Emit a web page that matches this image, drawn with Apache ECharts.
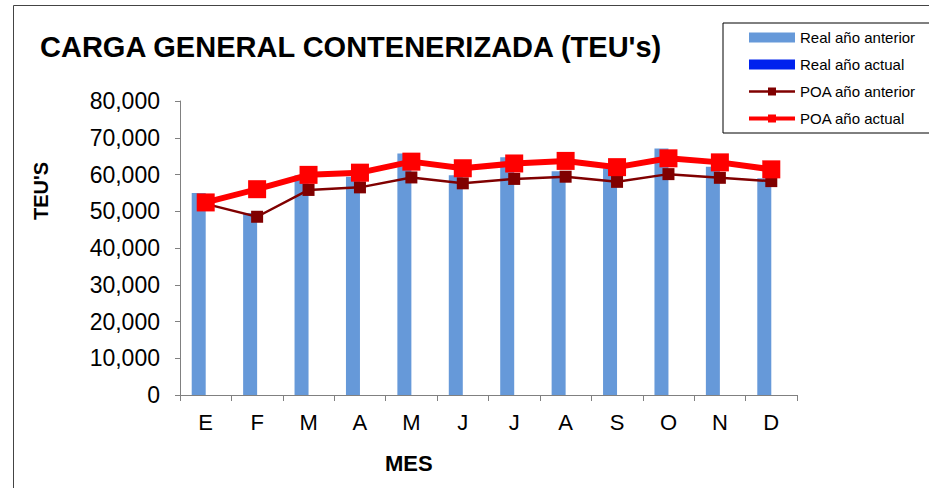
<!DOCTYPE html>
<html>
<head>
<meta charset="UTF-8">
<title>Carga general contenerizada</title>
<script src="https://cdn.jsdelivr.net/npm/echarts@6/dist/echarts.min.js"></script>
<style>
  html, body { margin: 0; padding: 0; background: #fff; }
  #main { width: 929px; height: 488px; }
</style>
</head>
<body>
<div id="main"></div>
<script>
// months (Spanish initials)
var meses = ['E', 'F', 'M', 'A', 'M', 'J', 'J', 'A', 'S', 'O', 'N', 'D'];
// TEU's per month
var realAnterior = [55000, 49500, 59800, 59400, 65700, 59800, 64700, 60900, 61700, 67100, 62100, 59000];
var realActual = [null, null, null, null, null, null, null, null, null, null, null, null];
var poaAnterior = [52000, 48500, 55800, 56500, 59200, 57600, 58800, 59400, 58000, 60100, 59100, 58200];
var poaActual = [52400, 56000, 59900, 60500, 63500, 61700, 63000, 63700, 62000, 64400, 63300, 61400];

var myChart = echarts.init(document.getElementById('main'), null, { renderer: 'svg' });

var font = 'Liberation Sans, Arial, sans-serif';
var axisColor = '#808080';

var option = {
    backgroundColor: '#fff',
    animation: false,
    textStyle: { fontFamily: font },
    title: {
        text: "CARGA GENERAL CONTENERIZADA (TEU's)",
        left: 40,
        top: 32,
        padding: 0,
        textStyle: { fontSize: 29, fontWeight: 'bold', color: '#000', fontFamily: font }
    },
    legend: {
        orient: 'vertical',
        left: 723,
        top: 23,
        padding: [7, 40, 7, 24],
        itemGap: 12,
        itemWidth: 46,
        itemHeight: 10,
        backgroundColor: '#fff',
        borderColor: '#000',
        borderWidth: 1,
        textStyle: { fontSize: 15, color: '#000', fontFamily: font },
        data: [
            { name: 'Real año anterior', icon: 'rect' },
            { name: 'Real año actual', icon: 'rect' },
            { name: 'POA año anterior', lineStyle: { width: 2.5 } },
            { name: 'POA año actual', lineStyle: { width: 4 } }
        ]
    },
    grid: { left: 180, right: 132, top: 101, bottom: 93, containLabel: false },
    xAxis: {
        type: 'category',
        data: meses,
        boundaryGap: true,
        axisLine: { lineStyle: { color: axisColor, width: 1 } },
        axisTick: { show: true, length: 6, lineStyle: { color: axisColor } },
        axisLabel: { fontSize: 22, color: '#000', margin: 16, fontFamily: font },
        splitLine: { show: false }
    },
    yAxis: {
        type: 'value',
        min: 0,
        max: 80000,
        interval: 10000,
        axisLine: { show: true, lineStyle: { color: axisColor, width: 1 } },
        axisTick: { show: true, length: 5, lineStyle: { color: axisColor } },
        axisLabel: {
            fontSize: 23,
            color: '#000',
            margin: 20,
            fontFamily: font,
            formatter: function (v) { return v.toLocaleString('en-US'); }
        },
        splitLine: { show: false }
    },
    graphic: [
        {
            type: 'rect',
            silent: true,
            shape: { x: 13.5, y: 5.5, width: 2000, height: 2000 },
            style: { fill: 'none', stroke: '#444', lineWidth: 1 },
            z: -10
        },
        {
            type: 'text',
            left: 385,
            top: 452,
            style: { text: 'MES', fontSize: 22, fontWeight: 'bold', fill: '#000', fontFamily: font }
        },
        {
            type: 'text',
            x: 31,
            y: 220,
            rotation: Math.PI / 2,
            style: { text: "TEU'S", fontSize: 20, fontWeight: 'bold', fill: '#000', fontFamily: font }
        }
    ],
    series: [
        {
            name: 'Real año anterior',
            type: 'bar',
            barWidth: 14,
            barGap: '0%',
            itemStyle: { color: '#6699D9' },
            data: realAnterior
        },
        {
            name: 'Real año actual',
            type: 'bar',
            barWidth: 14,
            barGap: '0%',
            itemStyle: { color: '#0022EE' },
            data: realActual
        },
        {
            name: 'POA año anterior',
            type: 'line',
            symbol: 'rect',
            symbolSize: 12,
            itemStyle: { color: '#800000' },
            lineStyle: { color: '#800000', width: 2.5 },
            z: 3,
            data: poaAnterior
        },
        {
            name: 'POA año actual',
            type: 'line',
            symbol: 'rect',
            symbolSize: 18,
            itemStyle: { color: '#FF0000' },
            lineStyle: { color: '#FF0000', width: 6 },
            z: 4,
            data: poaActual
        }
    ]
};

myChart.setOption(option);
</script>
</body>
</html>
